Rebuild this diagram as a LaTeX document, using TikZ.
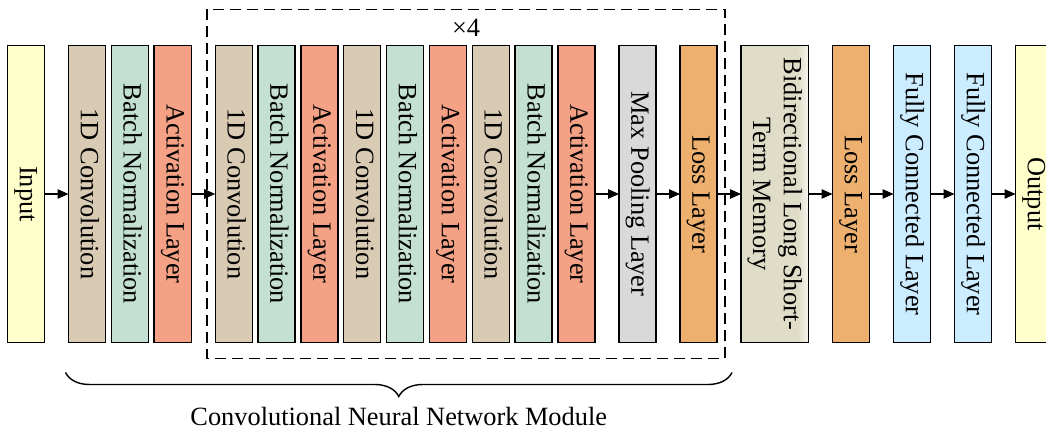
\documentclass[tikz,border=0pt]{standalone}
\usepackage{fontspec}
\setmainfont{Liberation Serif}
\usepackage{graphicx}
\usetikzlibrary{arrows.meta, positioning, calc, decorations.pathreplacing}

\definecolor{iocol}{HTML}{FFFFCC}
\definecolor{convcol}{HTML}{D9CBB3}
\definecolor{bncol}{HTML}{C4E0D3}
\definecolor{actcol}{HTML}{F4A186}
\definecolor{poolcol}{HTML}{D9D9D9}
\definecolor{losscol}{HTML}{EDB06F}
\definecolor{lstmcol}{HTML}{DFDCC8}
\definecolor{fccol}{HTML}{CCECFF}

\pgfdeclarehorizontalshading{lstmshade}{100bp}{color(0bp)=(lstmcol); color(25bp)=(lstmcol); color(67bp)=(lstmcol); color(75bp)=(lstmcol!30); color(100bp)=(lstmcol!30)}

\newcommand{\vtext}[1]{\rotatebox{-90}{\begin{tabular}{@{}c@{}}#1\end{tabular}}}

\begin{document}
\begin{tikzpicture}[
    node distance=0.48cm,
    font=\fontsize{15}{17.5}\selectfont,
    layer/.style={
        draw,
        line width=0.8pt,
        outer sep=0pt,
        minimum width=0.74cm,
        minimum height=5.94cm,
        inner sep=0pt
    },
    iobox/.style={layer, fill=iocol},
    convbox/.style={layer, fill=convcol},
    bnbox/.style={layer, fill=bncol},
    actbox/.style={layer, fill=actcol},
    poolbox/.style={layer, fill=poolcol},
    lossbox/.style={layer, fill=losscol},
    lstmbox/.style={layer, minimum width=1.35cm, shading=lstmshade},
    fcbox/.style={layer, fill=fccol},
    arrow/.style={-{Triangle[length=0.22cm, width=0.19cm]}, line width=0.6pt},
    frame/.style={dash pattern=on 0.22cm off 0.12cm, line width=0.85pt},
    brace/.style={decorate, decoration={brace, mirror, amplitude=0.48cm}, line width=0.8pt}
]
\useasboundingbox (0,0) rectangle (20.92,-8.7);

\node[iobox] (input) at (0.52,-3.88) {\vtext{Input}};
\node[convbox, right=of input] (conv1) {\vtext{1D Convolution}};
\node[bnbox, right=0.117cm of conv1] (bn1) {\vtext{Batch Normalization}};
\node[actbox, right=0.117cm of bn1] (act1) {\vtext{Activation Layer}};

\node[convbox, right=of act1] (conv2) {\vtext{1D Convolution}};
\node[bnbox, right=0.117cm of conv2] (bn2) {\vtext{Batch Normalization}};
\node[actbox, right=0.117cm of bn2] (act2) {\vtext{Activation Layer}};
\node[convbox, right=0.117cm of act2] (conv3) {\vtext{1D Convolution}};
\node[bnbox, right=0.117cm of conv3] (bn3) {\vtext{Batch Normalization}};
\node[actbox, right=0.117cm of bn3] (act3) {\vtext{Activation Layer}};
\node[convbox, right=0.117cm of act3] (conv4) {\vtext{1D Convolution}};
\node[bnbox, right=0.117cm of conv4] (bn4) {\vtext{Batch Normalization}};
\node[actbox, right=0.117cm of bn4] (act4) {\vtext{Activation Layer}};
\node[poolbox, right=of act4] (pool) {\vtext{Max Pooling Layer}};
\node[lossbox, right=of pool] (loss1) {\vtext{Loss Layer}};

\node[lstmbox, right=of loss1] (bilstm) {\vtext{Bidirectional Long Short-\\Term Memory}};
\node[lossbox, right=of bilstm] (loss2) {\vtext{Loss Layer}};
\node[fcbox, right=of loss2] (fc1) {\vtext{Fully Connected Layer}};
\node[fcbox, right=of fc1] (fc2) {\vtext{Fully Connected Layer}};
\node[iobox, right=of fc2] (output) {\vtext{Output}};

\coordinate (fnw) at ($(conv2.north west)+(-0.16,0.72)$);
\coordinate (fse) at ($(loss1.south east)+(0.16,-0.32)$);
\coordinate (fmid) at ($(fnw)!0.5!(fse)$);
\draw[frame] (fnw) rectangle (fse);
\node (repeat) at ($(fmid |- fnw)+(0,-0.36)$) {×4};

\draw[arrow] (input) -- (conv1);
\draw[arrow] (act1) -- (conv2);
\draw[arrow] (act4) -- (pool);
\draw[arrow] (pool) -- (loss1);
\draw[arrow] (loss1) -- (bilstm);
\draw[arrow] (bilstm) -- (loss2);
\draw[arrow] (loss2) -- (fc1);
\draw[arrow] (fc1) -- (fc2);
\draw[arrow] (fc2) -- (output);

\coordinate (bl) at ($(conv1.south west)+(-0.06,-0.6)$);
\coordinate (br) at ($(fse)+(0.14,-0.28)$);
\draw[brace] (bl) -- (br);
\node (cnnlabel) at ($(bl)!0.5!(br)+(0,-0.88)$) {Convolutional Neural Network Module};
\end{tikzpicture}
\end{document}
